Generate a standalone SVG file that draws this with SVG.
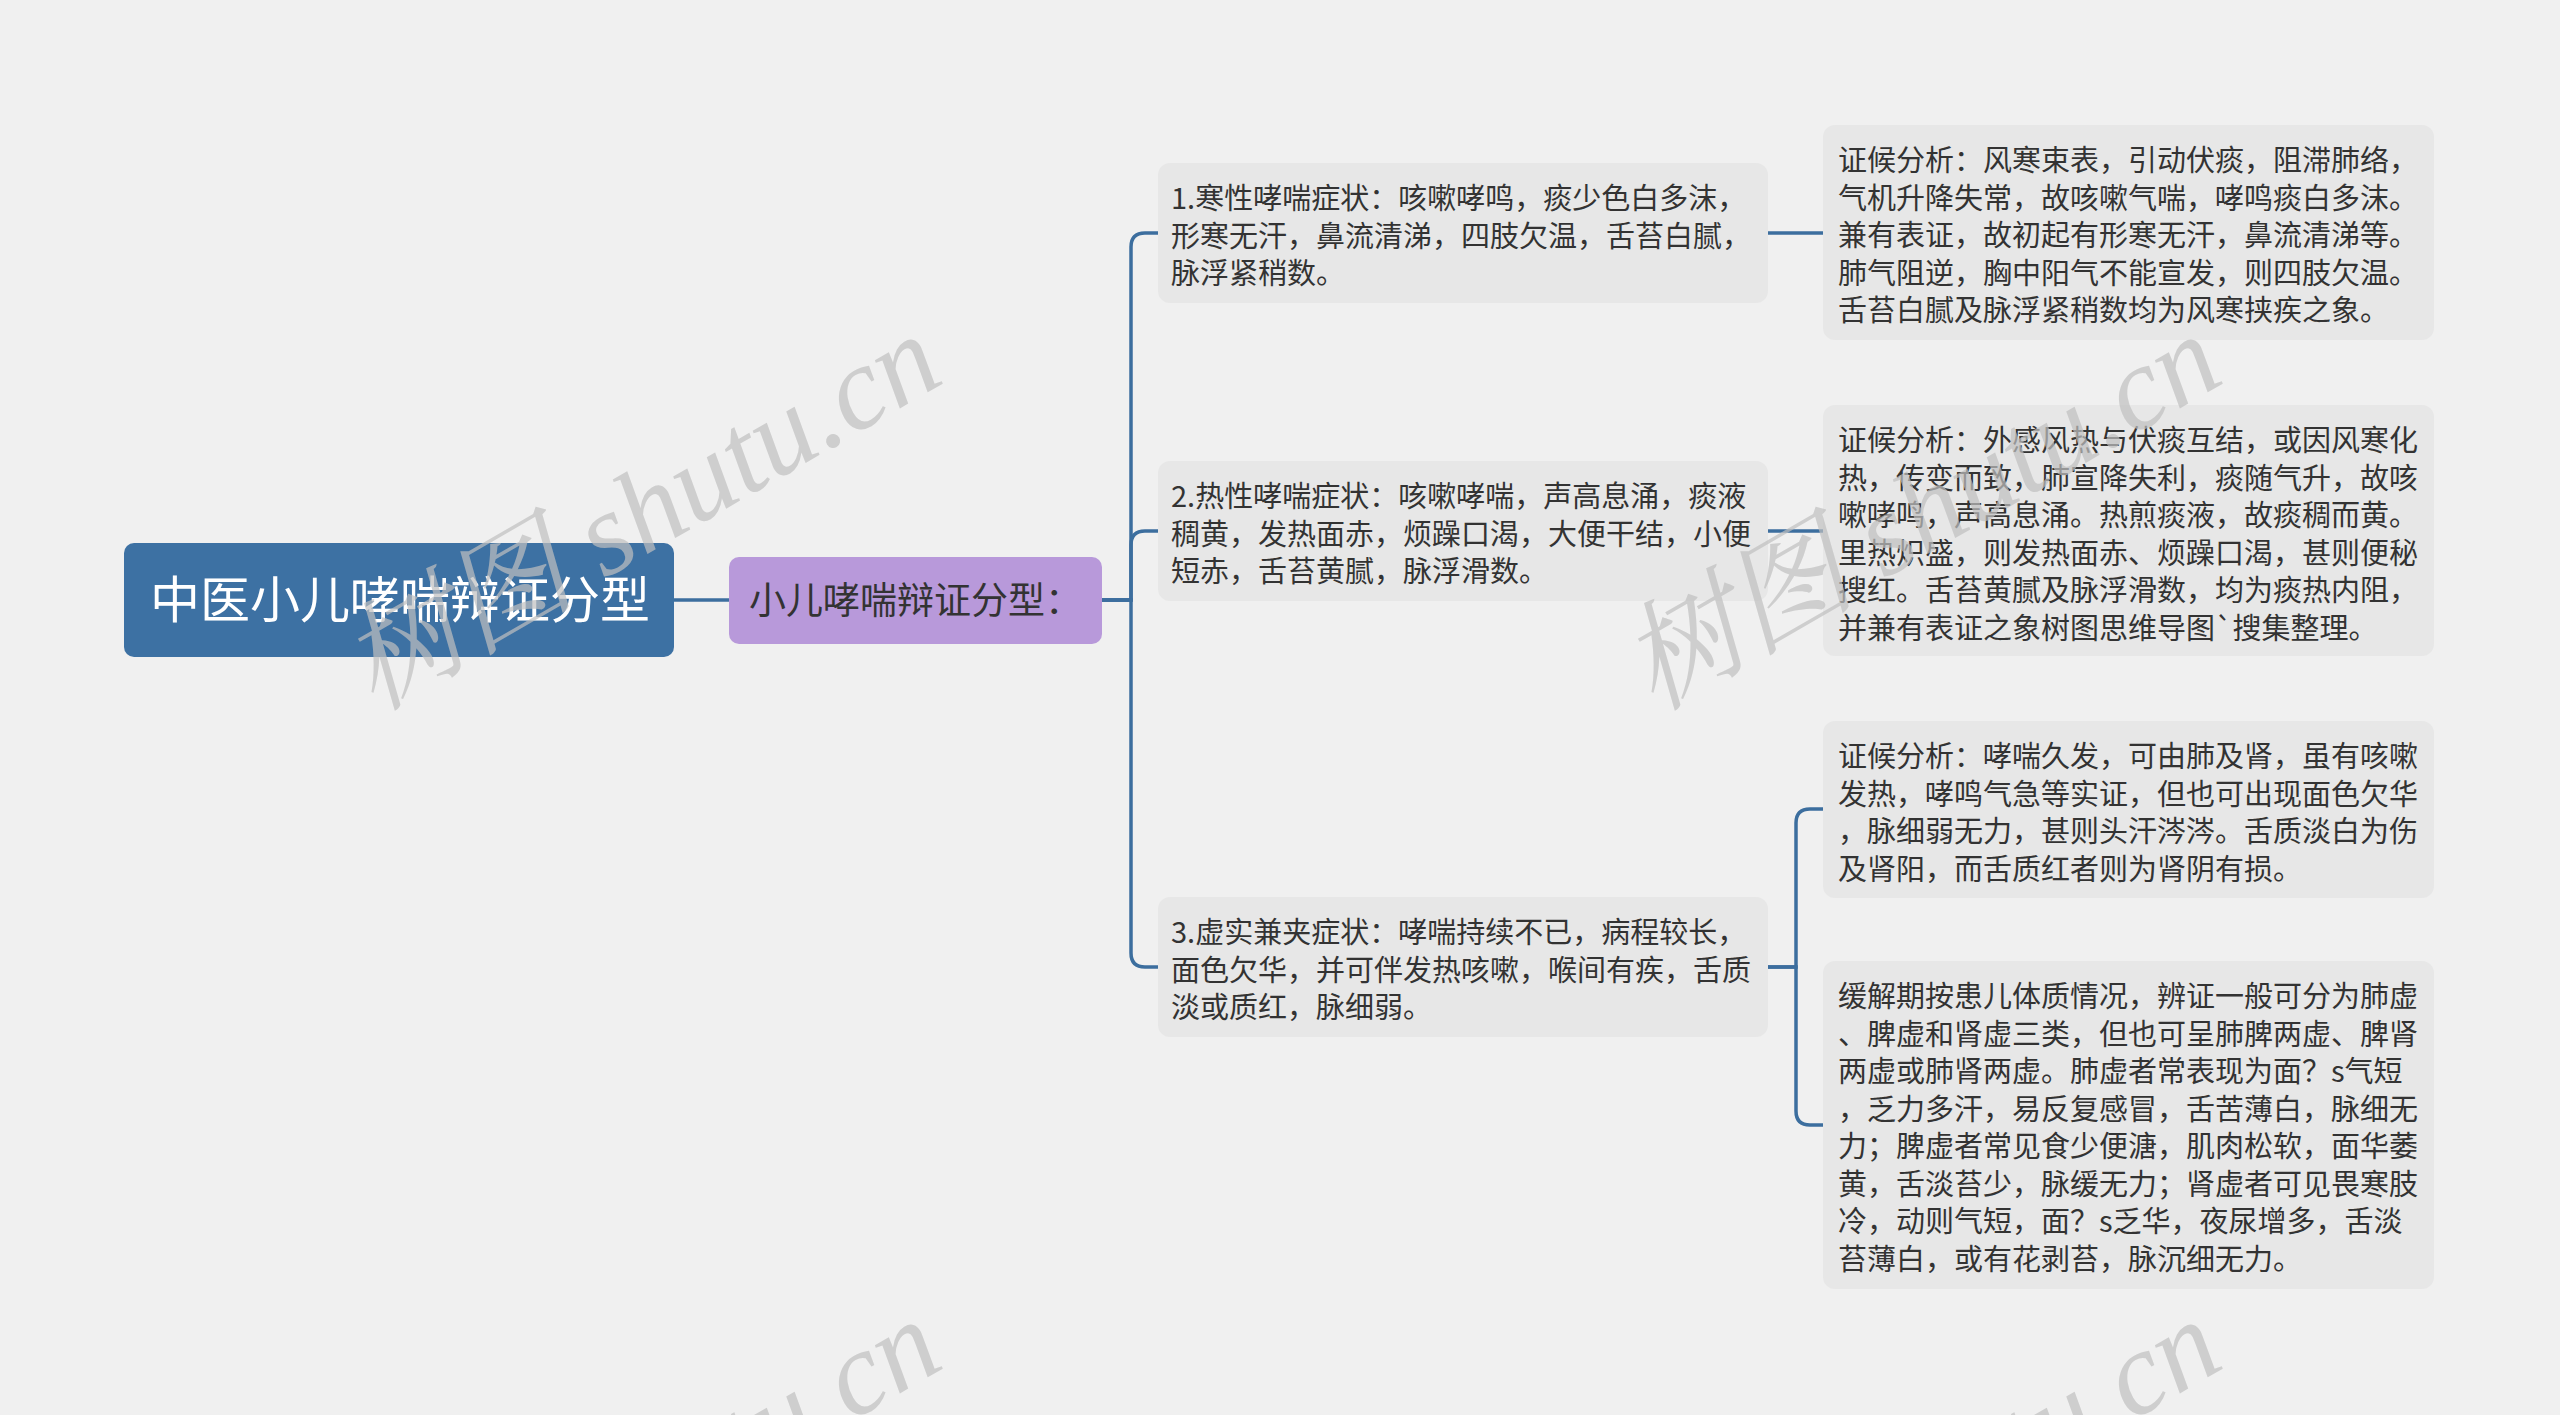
<svg xmlns="http://www.w3.org/2000/svg" width="2560" height="1415" viewBox="0 0 2560 1415">
<style>
.bg{fill:#F0F0F0}
.conn{fill:none;stroke:#3C6E9E;stroke-width:3.5;stroke-linecap:round}
.box{fill:#E7E7E7}
.t{font-family:"Noto Sans CJK SC","Microsoft YaHei",sans-serif;font-size:29px;fill:#333333}
.root{fill:#3D71A3}
.sub{fill:#B899DA}
.wm{font-family:"Liberation Serif","Noto Serif CJK SC","Noto Sans CJK SC",serif;font-style:italic;font-size:118px;fill:#C0C0C0;opacity:0.7}
</style>
<rect class="bg" x="0" y="0" width="2560" height="1415"/>
<g id="connectors">
<path class="conn" d="M674,600 H729"/>
<path class="conn" d="M1102,600 H1131 V247 Q1131,233 1145,233 H1158"/>
<path class="conn" d="M1102,600 H1131 V545 Q1131,531 1145,531 H1158"/>
<path class="conn" d="M1102,600 H1131 V953 Q1131,967 1145,967 H1158"/>
<path class="conn" d="M1768,233 H1823"/>
<path class="conn" d="M1768,531 H1823"/>
<path class="conn" d="M1768,967 H1796 V823 Q1796,809 1810,809 H1823"/>
<path class="conn" d="M1768,967 H1796 V1111 Q1796,1125 1810,1125 H1823"/>
</g>
<g id="root">
<rect class="root" x="124" y="543" width="550" height="114" rx="10"/>
<text x="400" y="618" text-anchor="middle" style="font-family:'Noto Sans CJK SC','Microsoft YaHei',sans-serif;font-size:50px;fill:#FFFFFF">中医小儿哮喘辩证分型</text>
</g>
<g id="sub">
<rect class="sub" x="729" y="557" width="373" height="87" rx="10"/>
<text x="749" y="614" style="font-family:'Noto Sans CJK SC','Microsoft YaHei',sans-serif;font-size:37px;fill:#333333">小儿哮喘辩证分型：</text>
</g>
<g id="n1">
<rect class="box" x="1158" y="163" width="610" height="140" rx="12"/>
<text class="t"><tspan x="1171" y="209">1.寒性哮喘症状：咳嗽哮鸣，痰少色白多沫，</tspan><tspan x="1171" y="246.5">形寒无汗，鼻流清涕，四肢欠温，舌苔白腻，</tspan><tspan x="1171" y="284">脉浮紧稍数。</tspan></text>
</g>
<g id="n2">
<rect class="box" x="1158" y="461" width="610" height="140" rx="12"/>
<text class="t"><tspan x="1171" y="507">2.热性哮喘症状：咳嗽哮喘，声高息涌，痰液</tspan><tspan x="1171" y="544.5">稠黄，发热面赤，烦躁口渴，大便干结，小便</tspan><tspan x="1171" y="582">短赤，舌苔黄腻，脉浮滑数。</tspan></text>
</g>
<g id="n3">
<rect class="box" x="1158" y="897" width="610" height="140" rx="12"/>
<text class="t"><tspan x="1171" y="943">3.虚实兼夹症状：哮喘持续不已，病程较长，</tspan><tspan x="1171" y="980.5">面色欠华，并可伴发热咳嗽，喉间有疾，舌质</tspan><tspan x="1171" y="1018">淡或质红，脉细弱。</tspan></text>
</g>
<g id="r1">
<rect class="box" x="1823" y="125" width="611" height="215" rx="12"/>
<text class="t"><tspan x="1838" y="171">证候分析：风寒束表，引动伏痰，阻滞肺络，</tspan><tspan x="1838" y="208.5">气机升降失常，故咳嗽气喘，哮鸣痰白多沫。</tspan><tspan x="1838" y="246">兼有表证，故初起有形寒无汗，鼻流清涕等。</tspan><tspan x="1838" y="283.5">肺气阻逆，胸中阳气不能宣发，则四肢欠温。</tspan><tspan x="1838" y="321">舌苔白腻及脉浮紧稍数均为风寒挟疾之象。</tspan></text>
</g>
<g id="r2">
<rect class="box" x="1823" y="405" width="611" height="251" rx="12"/>
<text class="t"><tspan x="1838" y="451">证候分析：外感风热与伏痰互结，或因风寒化</tspan><tspan x="1838" y="488.5">热，传变而致，肺宣降失利，痰随气升，故咳</tspan><tspan x="1838" y="526">嗽哮鸣，声高息涌。热煎痰液，故痰稠而黄。</tspan><tspan x="1838" y="563.5">里热炽盛，则发热面赤、烦躁口渴，甚则便秘</tspan><tspan x="1838" y="601">搜红。舌苔黄腻及脉浮滑数，均为痰热内阻，</tspan><tspan x="1838" y="638.5">并兼有表证之象树图思维导图`搜集整理。</tspan></text>
</g>
<g id="r3">
<rect class="box" x="1823" y="721" width="611" height="177" rx="12"/>
<text class="t"><tspan x="1838" y="767">证候分析：哮喘久发，可由肺及肾，虽有咳嗽</tspan><tspan x="1838" y="804.5">发热，哮鸣气急等实证，但也可出现面色欠华</tspan><tspan x="1838" y="842">，脉细弱无力，甚则头汗涔涔。舌质淡白为伤</tspan><tspan x="1838" y="879.5">及肾阳，而舌质红者则为肾阴有损。</tspan></text>
</g>
<g id="r4">
<rect class="box" x="1823" y="961" width="611" height="328" rx="12"/>
<text class="t"><tspan x="1838" y="1007">缓解期按患儿体质情况，辨证一般可分为肺虚</tspan><tspan x="1838" y="1044.5">、脾虚和肾虚三类，但也可呈肺脾两虚、脾肾</tspan><tspan x="1838" y="1082">两虚或肺肾两虚。肺虚者常表现为面？s气短</tspan><tspan x="1838" y="1119.5">，乏力多汗，易反复感冒，舌苦薄白，脉细无</tspan><tspan x="1838" y="1157">力；脾虚者常见食少便溏，肌肉松软，面华萎</tspan><tspan x="1838" y="1194.5">黄，舌淡苔少，脉缓无力；肾虚者可见畏寒肢</tspan><tspan x="1838" y="1232">冷，动则气短，面？s乏华，夜尿增多，舌淡</tspan><tspan x="1838" y="1269.5">苔薄白，或有花剥苔，脉沉细无力。</tspan></text>
</g>
<g id="watermark">
<text class="wm" x="374" y="712" transform="rotate(-30 374 712)">树图 shutu.cn</text>
<text class="wm" x="1654" y="712" transform="rotate(-30 1654 712)">树图 shutu.cn</text>
<text class="wm" x="374" y="1697" transform="rotate(-30 374 1697)">树图 shutu.cn</text>
<text class="wm" x="1654" y="1697" transform="rotate(-30 1654 1697)">树图 shutu.cn</text>
</g>
</svg>
